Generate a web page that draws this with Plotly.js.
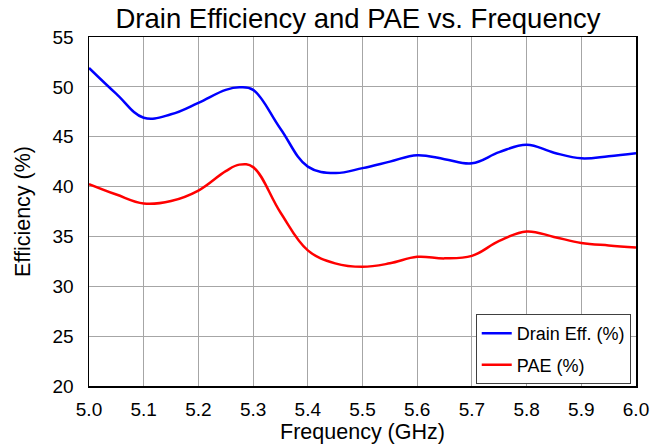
<!DOCTYPE html>
<html><head><meta charset="utf-8">
<script src="https://cdn.plot.ly/plotly-3.0.1.min.js"></script>
<style>html,body{margin:0;padding:0;background:#fff}#chart{width:661px;height:446px}</style>
</head><body><div id="chart"></div>
<script>
const freq     = [5.00,5.05,5.10,5.15,5.20,5.25,5.275,5.30,5.35,5.40,5.45,5.50,5.55,5.60,5.65,5.70,5.75,5.80,5.85,5.90,5.95,6.00];
const drainEff = [51.9,49.3,46.9,47.25,48.4,49.7,49.95,49.7,45.8,42.0,41.35,41.85,42.5,43.15,42.75,42.33,43.45,44.2,43.4,42.83,43.05,43.35];
const pae      = [40.25,39.2,38.3,38.55,39.6,41.55,42.2,41.95,37.4,33.6,32.3,31.95,32.3,32.95,32.8,33.05,34.55,35.5,34.95,34.35,34.1,33.9];
const seriesNames = ["Drain Eff. (%)","PAE (%)"];

const font = "Liberation Sans, Arial, sans-serif";
const data = [
  {x: freq, y: drainEff, name: seriesNames[0], mode: "lines", legendgroup: "a",
   line: {color: "#0000ff", width: 2.5, shape: "spline", smoothing: 1.1}},
  {x: freq, y: pae, name: seriesNames[1], mode: "lines", legendgroup: "b",
   line: {color: "#ff0000", width: 2.5, shape: "spline", smoothing: 1.1}}
];
const layout = {
  width: 661, height: 446,
  margin: {l: 89, r: 25, t: 37, b: 60},
  paper_bgcolor: "#fff", plot_bgcolor: "#fff",
  font: {family: font, color: "#000", size: 19},
  title: {text: "Drain Efficiency and PAE vs. Frequency", font: {family: font, size: 27.5, color: "#000"},
          x: 358/661, xanchor: "center", y: 1 - 18/446, yanchor: "middle"},
  xaxis: {range: [5.0, 6.0], dtick: 0.1, tick0: 5.0, tickformat: ".1f",
          showgrid: true, gridcolor: "#a6a6a6", gridwidth: 1,
          showline: true, linecolor: "#000", linewidth: 1.5, mirror: true,
          ticks: "", zeroline: false, tickfont: {size: 19}, ticklabelstandoff: 6,
          title: {text: "Frequency (GHz)", font: {size: 21.5}, standoff: 2}},
  yaxis: {range: [20, 55], dtick: 5, tick0: 20,
          showgrid: true, gridcolor: "#a6a6a6", gridwidth: 1,
          showline: true, linecolor: "#000", linewidth: 1.5, mirror: true,
          ticks: "", zeroline: false, tickfont: {size: 19}, ticklabelstandoff: 10,
          title: {text: "Efficiency (%)", font: {size: 21.5}, standoff: 16}},
  legend: {x: 0.707, y: 0.206, xanchor: "left", yanchor: "top",
           bgcolor: "#fff", bordercolor: "#404040", borderwidth: 1,
           font: {size: 18}, traceorder: "grouped", tracegroupgap: 5, itemwidth: 30},
  showlegend: true
};
Plotly.newPlot("chart", data, layout, {staticPlot: true, displayModeBar: false});
</script></body></html>
